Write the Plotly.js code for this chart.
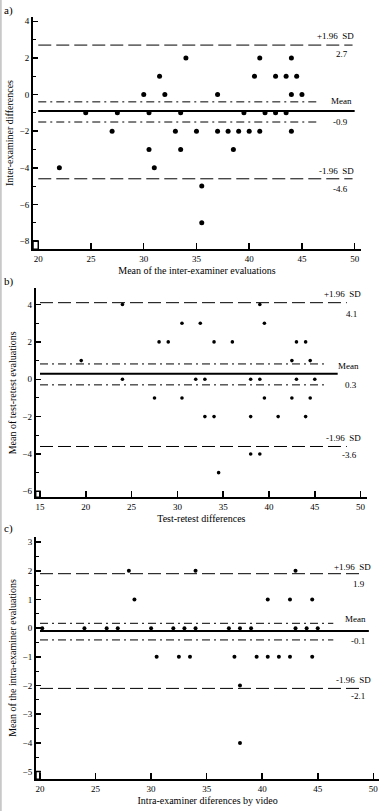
<!DOCTYPE html>
<html>
<head>
<meta charset="utf-8">
<script src="https://cdn.plot.ly/plotly-3.0.1.min.js"></script>
<style>html,body{margin:0;padding:0;background:#fff;}#chart{width:384px;height:811px;}</style>
</head>
<body>
<div id="chart"></div>
<script>
// ---------- Panel a: inter-examiner ----------
const aX = [34, 41, 44, 31.5, 40.5, 42.5, 43.5, 44.5, 30, 32, 37, 44, 45,
  24.5, 27.5, 30.5, 33.5, 39.5, 41.5, 42.5, 43.5,
  27, 33, 35, 37, 38, 39, 40, 41, 44,
  30.5, 33.5, 38.5, 22, 31, 35.5, 35.5];
const aY = [2, 2, 2, 1, 1, 1, 1, 1, 0, 0, 0, 0, 0,
  -1, -1, -1, -1, -1, -1, -1, -1,
  -2, -2, -2, -2, -2, -2, -2, -2, -2,
  -3, -3, -3, -4, -4, -5, -7];
const aStats = {mean: -0.9, upper: 2.7, lower: -4.6, ciLow: -1.5, ciHigh: -0.4};

// ---------- Panel b: test-retest ----------
const bX = [24, 39, 30.5, 32.5, 39.5, 28, 29, 34, 36, 43, 44,
  19.5, 42.5, 44.5, 24, 32, 33, 38, 39, 43, 45,
  27.5, 30.5, 39.5, 42.5, 44.5, 33, 34, 38, 41, 44,
  38, 39, 34.5];
const bY = [4, 4, 3, 3, 3, 2, 2, 2, 2, 2, 2,
  1, 1, 1, 0, 0, 0, 0, 0, 0, 0,
  -1, -1, -1, -1, -1, -2, -2, -2, -2, -2,
  -4, -4, -5];
const bStats = {mean: 0.3, upper: 4.1, lower: -3.6, ciLow: -0.3, ciHigh: 0.82};

// ---------- Panel c: intra-examiner by video ----------
const cX = [28, 34, 43, 28.5, 40.5, 42.5, 44.5,
  20.2, 24, 26, 27, 30, 32, 33, 34, 37, 38, 39, 43, 44, 45,
  30.5, 32.5, 33.5, 37.5, 39.5, 40.5, 41.5, 42.5, 44.5,
  38, 38];
const cY = [2, 2, 2, 1, 1, 1, 1,
  0, 0, 0, 0, 0, 0, 0, 0, 0, 0, 0, 0, 0, 0,
  -1, -1, -1, -1, -1, -1, -1, -1, -1,
  -2, -4];
const cStats = {mean: -0.1, upper: 1.9, lower: -2.1, ciLow: -0.41, ciHigh: 0.17};

const panelLetters = ['a)', 'b)', 'c)'];
const xTitles = ['Mean of the inter-examiner evaluations', 'Test-retest differences', 'Intra-examiner diferences by video'];
const yTitles = ['Inter-examiner differences', 'Mean of test-retest evaluations', 'Mean of the intra-examiner evaluations'];

// ---------- layout geometry (pixels in the 384x811 page) ----------
const W = 384, H = 811;
const FONT = 'Liberation Serif, Times New Roman, serif';
const panels = [
  {x: aX, y: aY, s: aStats, xr: [19.5, 50.6], yr: [-8.45, 4.25], px: [33, 361], py: [249.3, 16.7],
   xt: 5, yt: 2, ym: 1, corner: [20, -8], msize: 5,
   lineStart: 20, dashEnd: 49.8, solidEnd: 50, dotEnd: 46.4,
   lab: {sd: 356, mean: 354, val: 350}, sh: {sdU: 9, valU: -9, mean: 10, meanV: -11, sdL: 8, valL: -10}},
  {x: bX, y: bY, s: bStats, xr: [14.53, 50.7], yr: [-6.32, 4.87], px: [35.7, 367], py: [497.3, 288.3],
   xt: 5, yt: 2, ym: 1, corner: [15, -6], msize: 3.6,
   lineStart: 15, dashEnd: 48.5, solidEnd: 47.5, dotEnd: 46.4,
   lab: {sd: 363, mean: 361, val: 359}, sh: {sdU: 9, valU: -11, mean: 8, meanV: -11, sdL: 8, valL: -9}},
  {x: cX, y: cY, s: cStats, xr: [19.64, 50.54], yr: [-5.27, 3.19], px: [36, 379.3], py: [779.3, 536.7],
   xt: 5, yt: 1, ym: 0.5, corner: [20, -5], msize: 4,
   lineStart: 20, dashEnd: 49, solidEnd: 49.6, dotEnd: 46.4,
   lab: {sd: 373, mean: 368, val: 367}, sh: {sdU: 7, valU: -10, mean: 12, meanV: -10, sdL: 8, valL: -8}}
];

const traces = [];
const layout = {
  width: W, height: H,
  margin: {l: 0, r: 0, t: 0, b: 0},
  paper_bgcolor: '#fff', plot_bgcolor: '#fff',
  showlegend: false,
  font: {family: FONT, size: 9, color: '#000'},
  annotations: [], shapes: []
};

const panelLetterY = [10, 281, 528];

panels.forEach((p, i) => {
  const n = i === 0 ? '' : String(i + 1);
  const xa = 'x' + n, ya = 'y' + n;
  const lineCommon = {xaxis: xa, yaxis: ya, mode: 'lines', hoverinfo: 'skip', type: 'scatter'};
  [p.s.upper, p.s.lower].forEach(v => traces.push(Object.assign({}, lineCommon,
    {x: [p.lineStart, p.dashEnd], y: [v, v], line: {color: '#000', width: 1, dash: '13px,5px'}})));
  [p.s.ciHigh, p.s.ciLow].forEach(v => traces.push(Object.assign({}, lineCommon,
    {x: [p.lineStart, p.dotEnd], y: [v, v], line: {color: '#000', width: 1, dash: '8px,4px,2px,4px'}})));
  traces.push(Object.assign({}, lineCommon,
    {x: [p.lineStart, p.solidEnd], y: [p.s.mean, p.s.mean], line: {color: '#000', width: 2}}));
  traces.push({type: 'scatter', mode: 'markers', x: p.x, y: p.y, xaxis: xa, yaxis: ya, cliponaxis: false,
    marker: {color: '#000', size: p.msize}});

  const xKey = 'xaxis' + n, yKey = 'yaxis' + n;
  layout[xKey] = {
    domain: [p.px[0] / W, p.px[1] / W], range: p.xr, anchor: ya,
    showgrid: false, zeroline: false, showline: true, linewidth: 2, linecolor: '#000',
    ticks: 'inside', ticklen: 6, tickwidth: 1.5, tickcolor: '#000', dtick: p.xt, tick0: 0,
    tickfont: {family: FONT, size: 9, color: '#000'},
    title: {text: xTitles[i], font: {family: FONT, size: 10, color: '#000'}, standoff: 4}
  };
  layout[yKey] = {
    domain: [1 - p.py[0] / H, 1 - p.py[1] / H], range: p.yr, anchor: xa,
    showgrid: false, zeroline: false, showline: true, linewidth: 2, linecolor: '#000',
    ticks: 'inside', ticklen: 5, tickwidth: 1.5, tickcolor: '#000', dtick: p.yt, tick0: 0,
    minor: {ticks: 'inside', ticklen: 3, tickwidth: 1, dtick: p.ym, tickcolor: '#000'},
    tickfont: {family: FONT, size: 9, color: '#000'},
    title: {text: yTitles[i], font: {family: FONT, size: 10, color: '#000'}, standoff: 4}
  };
  layout.shapes.push({type: 'rect', xref: xa, yref: ya, x0: p.xr[0], x1: p.corner[0], y0: p.yr[0], y1: p.corner[1],
    line: {color: '#000', width: 1.5}});

  const ann = (text, px, yv, ys) => layout.annotations.push({
    text: text, xref: 'paper', x: px / W, xanchor: 'right', yref: ya, y: yv, yanchor: 'middle',
    yshift: ys, showarrow: false, font: {family: FONT, size: 9, color: '#000'}
  });
  ann('+1.96  SD', p.lab.sd, p.s.upper, p.sh.sdU);
  ann(p.s.upper.toFixed(1), p.lab.val, p.s.upper, p.sh.valU);
  ann('Mean', p.lab.mean, p.s.mean, p.sh.mean);
  ann(p.s.mean.toFixed(1), p.lab.val, p.s.mean, p.sh.meanV);
  ann('-1.96  SD', p.lab.sd, p.s.lower, p.sh.sdL);
  ann(p.s.lower.toFixed(1), p.lab.val, p.s.lower, p.sh.valL);

  layout.annotations.push({text: panelLetters[i], xref: 'paper', yref: 'paper', x: 0.004, xanchor: 'left',
    y: 1 - panelLetterY[i] / H, yanchor: 'middle', showarrow: false, font: {family: FONT, size: 11, color: '#000'}});
});

layout.shapes.push({type: 'line', xref: 'paper', yref: 'paper', x0: 0.002, x1: 0.002, y0: 0, y1: 1,
  line: {color: '#c8c8c8', width: 2}});

Plotly.newPlot('chart', traces, layout, {displayModeBar: false, staticPlot: true});
</script>
</body>
</html>
